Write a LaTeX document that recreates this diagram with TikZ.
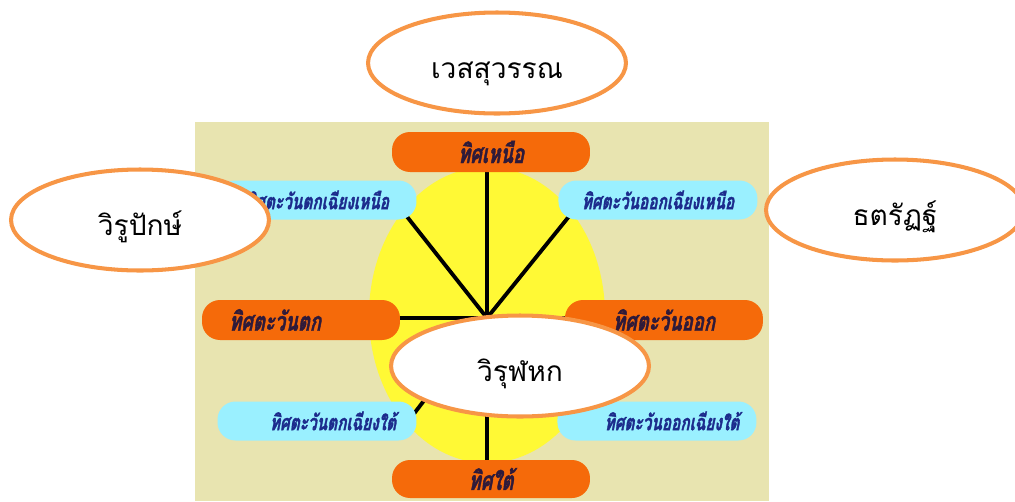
\documentclass[tikz,border=0pt]{standalone}
\usepackage{fontspec}
\newfontfamily\thaifont[Script=Thai]{Loma}
\newfontfamily\thaiboxfont[Script=Thai,FakeStretch=0.7,FakeSlant=0.2,FakeBold=1.5]{Loma}
\usetikzlibrary{shapes.geometric,positioning,calc,backgrounds}
\definecolor{boardbg}{HTML}{E8E4B0}
\definecolor{sunyellow}{HTML}{FFF935}
\definecolor{dirorange}{HTML}{F56A0A}
\definecolor{dircyan}{HTML}{9AF0FF}
\definecolor{ringorange}{HTML}{F79646}
\definecolor{maintext}{HTML}{2E1A3A}
\definecolor{subtext}{HTML}{1C2B8C}
\tikzset{
  mainbox/.style={rectangle, rounded corners=0.36cm, fill=dirorange, minimum width=3.96cm,
    minimum height=0.8cm, inner sep=0pt, text=maintext,
    font=\thaiboxfont\bfseries\fontsize{15}{17}\selectfont},
  subbox/.style={rectangle, rounded corners=0.36cm, fill=dircyan, minimum width=3.98cm,
    minimum height=0.78cm, inner sep=0pt, text=subtext,
    font=\thaiboxfont\bfseries\fontsize{12.5}{14}\selectfont},
  king/.style={ellipse, draw=ringorange, line width=2.3pt, fill=white, minimum width=5.16cm,
    minimum height=2.02cm, inner sep=0pt, text height=0.6cm, text depth=0pt,
    font=\thaifont\fontsize{16}{19}\selectfont},
  spoke/.style={line width=2.2pt}
}

\begin{document}
\begin{tikzpicture}[x=0.02cm,y=-0.02cm,on grid]
\useasboundingbox (0,0) rectangle (1015,501);
% the eight directions
\node[mainbox] (d_n) at (491,152) {ทิศเหนือ};
\node[mainbox] (d_w) at (301,320) {ทิศตะวันตก\hspace*{1.04cm}};
\node[mainbox] (d_e) [right=7.26cm of d_w] {ทิศตะวันออก};
\node[mainbox,minimum height=0.76cm] (d_s) at (491,479) {ทิศใต้};
\node[subbox] (d_nw) at (317,200) {ทิศตะวันตกเฉียงเหนือ};
\node[subbox] (d_ne) [right=6.82cm of d_nw] {ทิศตะวันออกเฉียงเหนือ};
\node[subbox] (d_sw) at (317,421) {\hspace*{0.64cm}ทิศตะวันตกเฉียงใต้};
\node[subbox] (d_se) [right=6.8cm of d_sw] {\hspace*{0.6cm}ทิศตะวันออกเฉียงใต้};
\coordinate (hub) at (487,318);

\begin{scope}[on background layer]
\fill[boardbg] (195,122) rectangle (769,501);
\fill[sunyellow] (487,315) ellipse [x radius=118, y radius=148];
\draw[spoke] (hub) -- (hub |- d_n.south);
\draw[spoke] (hub) -- (hub |- d_s.north);
\draw[spoke] (hub) -- (hub -| d_w.east);
\draw[spoke] (hub) -- (hub -| d_e.west);
\draw[spoke] (hub) -- ($(d_nw.south east)+(-16,-11)$);
\draw[spoke] (hub) -- ($(d_ne.south west)+(17,-11)$);
\draw[spoke] (hub) -- ($(d_sw.north east)+(-7,18)$);
\draw[spoke] (hub) -- ($(d_se.north west)+(6,18)$);
\end{scope}

% the four kings
\node[king] (k_n) at (497,63) {เวสสุวรรณ};
\node[king] (k_w) at (140,220) {วิรูปักษ์};
\node[king] (k_e) at (895,210) {ธตรัฏฐ์};
\node[king] (k_s) at (520,366) {วิรุฬหก};
\end{tikzpicture}
\end{document}
